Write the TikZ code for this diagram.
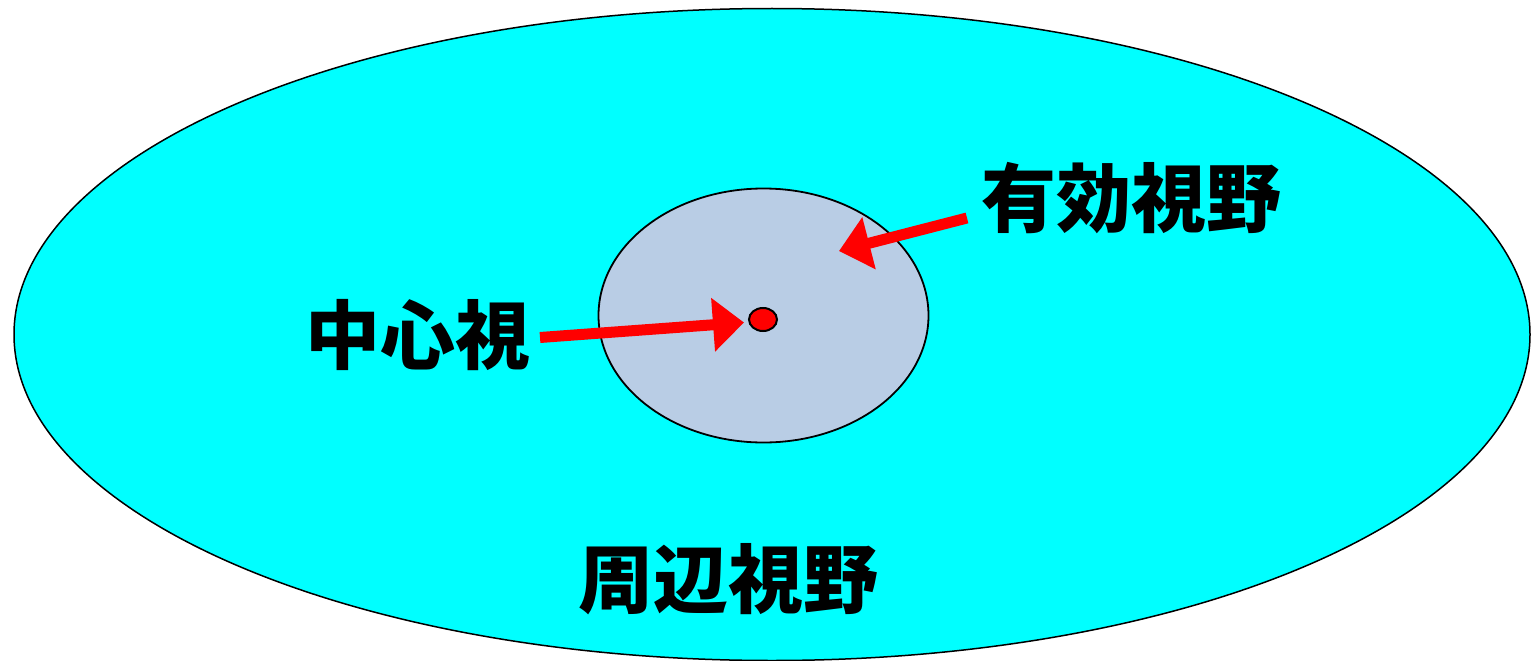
\documentclass[tikz,border=0pt]{standalone}
\usepackage{fontspec}
\newfontfamily\cjk{Noto Sans CJK JP}
\usetikzlibrary{shapes.geometric,arrows.meta}
\definecolor{outerfill}{HTML}{00FFFF}
\definecolor{innerfill}{HTML}{B9CDE5}
\definecolor{arrred}{HTML}{FF0000}
\tikzset{
  lbl/.style={inner sep=0pt, font=\cjk\bfseries\fontsize{75pt}{82pt}\selectfont},
  redarrow/.style={draw=arrred, line width=11pt,
    -{Triangle[length=31pt,width=52pt]}},
  zone/.style={ellipse, draw=black, inner sep=0pt},
}
\begin{document}
\begin{tikzpicture}[x=1pt,y=-1pt]
\useasboundingbox (0,0) rectangle (1532,661);
\node[zone, fill=outerfill, line width=1.5pt, minimum width=1516pt, minimum height=652pt] (outer) at (772,334.5) {};
\node[zone, fill=innerfill, line width=1.8pt, minimum width=330pt, minimum height=254pt] (inner) at (763.5,315.5) {};
\node[zone, fill=arrred, line width=2pt, minimum width=28pt, minimum height=23pt] (dot) at (763,319.5) {};
\node[lbl] (cs) at (418,335) {中心視};
\node[lbl] (ef) at (1131,198) {有効視野};
\node[lbl] (pf) at (728,579) {周辺視野};
\coordinate (cstail) at (540,337.5);
\coordinate (cstip) at (744,322.5);
\coordinate (eftail) at (967,218);
\coordinate (eftip) at (839,251);
\draw[redarrow] (cstail) -- (cstip);
\draw[redarrow] (eftail) -- (eftip);
\end{tikzpicture}
\end{document}
